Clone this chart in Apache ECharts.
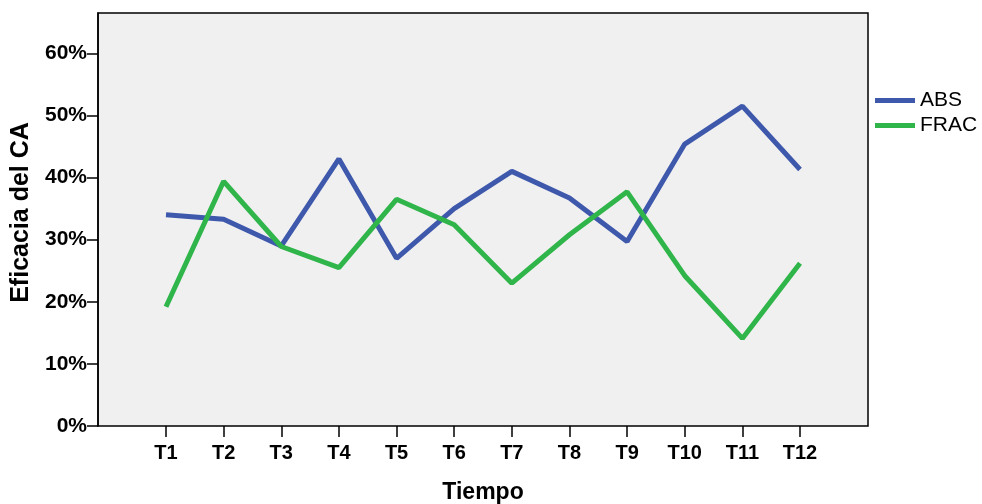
<!DOCTYPE html>
<html>
<head>
<meta charset="utf-8">
<script src="https://cdn.jsdelivr.net/npm/echarts@6/dist/echarts.min.js"></script>
<style>
  html, body { margin: 0; padding: 0; background: #fff; }
  #main { width: 982px; height: 504px; }
</style>
</head>
<body>
<div id="main"></div>
<script>
// datos (porcentaje)
var tiempos = ['T1', 'T2', 'T3', 'T4', 'T5', 'T6', 'T7', 'T8', 'T9', 'T10', 'T11', 'T12'];
var absData = [34.0, 33.3, 29.0, 43.0, 27.0, 35.0, 41.0, 36.7, 29.7, 45.4, 51.5, 41.3];
var fracData = [19.2, 39.4, 28.9, 25.5, 36.5, 32.4, 23.0, 30.8, 37.7, 24.2, 14.1, 26.2];
var nombres = ['ABS', 'FRAC'];
var colores = ['#3e58ac', '#2fb54a'];
var marcasY = [0, 10, 20, 30, 40, 50, 60];

var fuente = '"Liberation Sans", Arial, sans-serif';
var yMax = 66.5;

var chart = echarts.init(document.getElementById('main'));
chart.setOption({
  animation: false,
  textStyle: { fontFamily: fuente },
  legend: {
    orient: 'vertical',
    left: 870,
    top: 85,
    itemWidth: 40,
    itemHeight: 5,
    itemGap: 4,
    icon: 'rect',
    textStyle: { fontSize: 21, color: '#000', fontFamily: fuente },
    data: nombres
  },
  grid: [
    // marco gris
    { left: 98, right: 114, top: 13, bottom: 78, containLabel: false, outerBoundsMode: 'none',
      show: true, backgroundColor: '#f0f0f0', borderColor: '#000', borderWidth: 1.5 },
    // zona de datos (T1..T12)
    { left: 166, right: 182, top: 13, bottom: 78, containLabel: false, outerBoundsMode: 'none' }
  ],
  xAxis: [
    { gridIndex: 0, type: 'value', min: 0, max: 1, show: false },
    {
      gridIndex: 1, type: 'category', data: tiempos, boundaryGap: false,
      axisLine: { show: false },
      axisTick: { show: true, length: 11, inside: false, alignWithLabel: true, lineStyle: { color: '#000', width: 1.5 } },
      axisLabel: { color: '#000', fontWeight: 'bold', fontSize: 20, margin: 17, fontFamily: fuente },
      name: 'Tiempo', nameLocation: 'middle', nameGap: 55,
      nameTextStyle: { color: '#000', fontWeight: 'bold', fontSize: 23, fontFamily: fuente }
    }
  ],
  yAxis: [
    {
      gridIndex: 0, type: 'value', min: 0, max: yMax, interval: 10,
      splitLine: { show: false },
      axisLine: { show: true, lineStyle: { color: '#000', width: 1.5 } },
      axisTick: { show: true, length: 11, customValues: marcasY, lineStyle: { color: '#000', width: 1.5 } },
      axisLabel: {
        color: '#000', fontWeight: 'bold', fontSize: 21, margin: 11, fontFamily: fuente,
        customValues: marcasY,
        formatter: function (v) { return v + '%'; }
      },
      name: 'Eficacia del CA', nameLocation: 'middle', nameGap: 61, nameRotate: 90,
      nameTextStyle: { color: '#000', fontWeight: 'bold', fontSize: 25, fontFamily: fuente, padding: [0, 0, 0, 14] }
    },
    { gridIndex: 1, type: 'value', min: 0, max: yMax, show: false }
  ],
  series: [
    {
      name: nombres[0], type: 'line', xAxisIndex: 1, yAxisIndex: 1,
      data: absData, symbol: 'none', color: colores[0],
      lineStyle: { width: 5, color: colores[0] }
    },
    {
      name: nombres[1], type: 'line', xAxisIndex: 1, yAxisIndex: 1,
      data: fracData, symbol: 'none', color: colores[1],
      lineStyle: { width: 5, color: colores[1] }
    }
  ]
});
</script>
</body>
</html>
